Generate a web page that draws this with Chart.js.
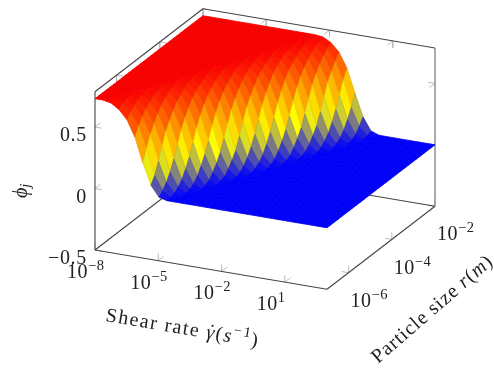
<!DOCTYPE html>
<html>
<head>
<meta charset="utf-8">
<style>
  html, body { margin: 0; padding: 0; background: #fff; }
  canvas { display: block; }
</style>
<script src="https://cdn.jsdelivr.net/npm/chart.js@4"></script>
</head>
<body>
<canvas id="chart" width="494" height="374"></canvas>
<script>
// ── data ─────────────────────────────────────────────────────────────────
// log10 of the axis ends and ticks
const shearRange = [-8, 3];
const sizeRange  = [-7, -2];
const phiRange   = [-0.5, 0.787];
const shearTicks = [-8, -5, -2, 1];
const sizeTicks  = [-6, -4, -2];
const phiTicks   = [-0.5, 0, 0.5];
const phiTickLabels = ["−0.5", "0", "0.5"];

// phi_j, one row per particle size, 30 shear samples per row
const phiRows = [
  [.73,.73,.717,.675,.602,.472,.272,.103,.018,0,0,0,0,0,0,0,0,0,0,0,0,0,0,0,0,0,0,0,0,0],
  [.73,.73,.725,.699,.64,.54,.367,.16,.047,.004,0,0,0,0,0,0,0,0,0,0,0,0,0,0,0,0,0,0,0,0],
  [.73,.73,.729,.714,.67,.591,.459,.253,.091,.015,0,0,0,0,0,0,0,0,0,0,0,0,0,0,0,0,0,0,0,0],
  [.73,.73,.73,.724,.696,.634,.525,.348,.153,.039,.003,0,0,0,0,0,0,0,0,0,0,0,0,0,0,0,0,0,0,0],
  [.73,.73,.73,.728,.711,.665,.581,.446,.235,.078,.012,0,0,0,0,0,0,0,0,0,0,0,0,0,0,0,0,0,0,0],
  [.73,.73,.73,.73,.723,.691,.627,.512,.329,.14,.031,.002,0,0,0,0,0,0,0,0,0,0,0,0,0,0,0,0,0,0],
  [.73,.73,.73,.73,.727,.708,.66,.571,.425,.216,.072,.009,0,0,0,0,0,0,0,0,0,0,0,0,0,0,0,0,0,0],
  [.73,.73,.73,.73,.73,.722,.686,.621,.499,.309,.128,.024,.001,0,0,0,0,0,0,0,0,0,0,0,0,0,0,0,0,0],
  [.73,.73,.73,.73,.73,.726,.705,.652,.56,.406,.198,.064,.007,0,0,0,0,0,0,0,0,0,0,0,0,0,0,0,0,0],
  [.73,.73,.73,.73,.73,.73,.722,.682,.615,.485,.29,.116,.021,.001,0,0,0,0,0,0,0,0,0,0,0,0,0,0,0,0],
  [.73,.73,.73,.73,.73,.73,.726,.702,.646,.55,.386,.179,.055,.004,0,0,0,0,0,0,0,0,0,0,0,0,0,0,0,0],
  [.73,.73,.73,.73,.73,.73,.73,.717,.675,.602,.472,.272,.103,.018,0,0,0,0,0,0,0,0,0,0,0,0,0,0,0,0],
  [.73,.73,.73,.73,.73,.73,.73,.725,.699,.64,.54,.367,.16,.047,.004,0,0,0,0,0,0,0,0,0,0,0,0,0,0,0],
  [.73,.73,.73,.73,.73,.73,.73,.729,.714,.67,.591,.459,.253,.091,.015,0,0,0,0,0,0,0,0,0,0,0,0,0,0,0],
  [.73,.73,.73,.73,.73,.73,.73,.73,.724,.696,.634,.525,.348,.153,.039,.003,0,0,0,0,0,0,0,0,0,0,0,0,0,0],
  [.73,.73,.73,.73,.73,.73,.73,.73,.728,.711,.665,.581,.446,.235,.078,.012,0,0,0,0,0,0,0,0,0,0,0,0,0,0],
  [.73,.73,.73,.73,.73,.73,.73,.73,.73,.723,.691,.627,.512,.329,.14,.031,.002,0,0,0,0,0,0,0,0,0,0,0,0,0],
  [.73,.73,.73,.73,.73,.73,.73,.73,.73,.727,.708,.66,.571,.425,.216,.072,.009,0,0,0,0,0,0,0,0,0,0,0,0,0],
  [.73,.73,.73,.73,.73,.73,.73,.73,.73,.73,.722,.686,.621,.499,.309,.128,.024,.001,0,0,0,0,0,0,0,0,0,0,0,0],
  [.73,.73,.73,.73,.73,.73,.73,.73,.73,.73,.726,.705,.652,.56,.406,.198,.064,.007,0,0,0,0,0,0,0,0,0,0,0,0],
  [.73,.73,.73,.73,.73,.73,.73,.73,.73,.73,.73,.722,.682,.615,.485,.29,.116,.021,.001,0,0,0,0,0,0,0,0,0,0,0],
  [.73,.73,.73,.73,.73,.73,.73,.73,.73,.73,.73,.726,.702,.646,.55,.386,.179,.055,.004,0,0,0,0,0,0,0,0,0,0,0],
  [.73,.73,.73,.73,.73,.73,.73,.73,.73,.73,.73,.73,.717,.675,.602,.472,.272,.103,.018,0,0,0,0,0,0,0,0,0,0,0],
  [.73,.73,.73,.73,.73,.73,.73,.73,.73,.73,.73,.73,.725,.699,.64,.54,.367,.16,.047,.004,0,0,0,0,0,0,0,0,0,0],
  [.73,.73,.73,.73,.73,.73,.73,.73,.73,.73,.73,.73,.729,.714,.67,.591,.459,.253,.091,.015,0,0,0,0,0,0,0,0,0,0],
  [.73,.73,.73,.73,.73,.73,.73,.73,.73,.73,.73,.73,.73,.724,.696,.634,.525,.348,.153,.039,.003,0,0,0,0,0,0,0,0,0],
  [.73,.73,.73,.73,.73,.73,.73,.73,.73,.73,.73,.73,.73,.728,.711,.665,.581,.446,.235,.078,.012,0,0,0,0,0,0,0,0,0],
  [.73,.73,.73,.73,.73,.73,.73,.73,.73,.73,.73,.73,.73,.73,.723,.691,.627,.512,.329,.14,.031,.002,0,0,0,0,0,0,0,0],
  [.73,.73,.73,.73,.73,.73,.73,.73,.73,.73,.73,.73,.73,.73,.727,.708,.66,.571,.425,.216,.072,.009,0,0,0,0,0,0,0,0],
  [.73,.73,.73,.73,.73,.73,.73,.73,.73,.73,.73,.73,.73,.73,.73,.722,.686,.621,.499,.309,.128,.024,.001,0,0,0,0,0,0,0],
];
const phiMax = 0.73;

// ── projection (pgfplots style orthographic box) ─────────────────────────
const origin = [95, 250];       // shear min, size min, phi min
const shearSpan = [232, 39.3];  // box edge along shear axis
const sizeSpan  = [108, -83];   // box edge along size axis
const phiUnit = 123;            // px per unit of phi

function project(sx, sy, z) {
  const u = (sx - shearRange[0]) / (shearRange[1] - shearRange[0]);
  const v = (sy - sizeRange[0]) / (sizeRange[1] - sizeRange[0]);
  return {
    x: origin[0] + u * shearSpan[0] + v * sizeSpan[0],
    y: origin[1] + u * shearSpan[1] + v * sizeSpan[1] - (z - phiRange[0]) * phiUnit,
  };
}

// colormap/hot: blue, yellow, orange, red
const hotStops = [[0,0,255],[255,255,0],[255,128,0],[255,0,0]];
function hot(t) {
  const p = Math.min(Math.max(t, 0), 1) * 3, k = Math.min(Math.floor(p), 2), f = p - k;
  return hotStops[k].map((c, n) => c + (hotStops[k + 1][n] - c) * f);
}
const rgb = (c, m = 1) => `rgb(${c.map(v => Math.round(v * m)).join(",")})`;

// ── datasets ─────────────────────────────────────────────────────────────
const shearAt = i => shearRange[0] + (shearRange[1] - shearRange[0]) * i / (phiRows[0].length - 1);
const sizeAt  = j => sizeRange[0] + (sizeRange[1] - sizeRange[0]) * j / (phiRows.length - 1);

const datasets = [];

// Chart.js paints the first dataset last, so the nearest cells go in first
for (let i = phiRows[0].length - 2; i >= 0; i--) {
  for (let j = 0; j < phiRows.length - 1; j++) {
    const a = phiRows[j][i], b = phiRows[j][i + 1], c = phiRows[j + 1][i + 1], d = phiRows[j + 1][i];
    const col = hot((a + b + c + d) / 4 / phiMax);
    datasets.push({
      data: [
        project(shearAt(i), sizeAt(j), a),
        project(shearAt(i + 1), sizeAt(j), b),
        project(shearAt(i + 1), sizeAt(j + 1), c),
        project(shearAt(i), sizeAt(j + 1), d),
        project(shearAt(i), sizeAt(j), a),
      ],
      // wide enough to close the antialiasing seams between cells
      showLine: true, fill: "shape", pointRadius: 0, borderWidth: 0.8,
      backgroundColor: rgb(col), borderColor: rgb(col, 0.92),
    });
  }
}

function addLine(p, q, color, width) {
  datasets.push({ data: [p, q], showLine: true, fill: false, pointRadius: 0, borderWidth: width, borderColor: color });
}

// box edges, behind the surface
const [x0, x1] = shearRange, [y0, y1] = sizeRange, [z0, z1] = phiRange;
const boxColor = "#444";
addLine(project(x0, y0, z0), project(x0, y0, z1), boxColor, 1.1);
addLine(project(x0, y0, z1), project(x0, y1, z1), boxColor, 1.1);
addLine(project(x0, y1, z1), project(x1, y1, z1), boxColor, 1.1);
addLine(project(x1, y1, z1), project(x1, y1, z0), "#888", 1.4);
addLine(project(x0, y0, z0), project(x1, y0, z0), boxColor, 1.1);
addLine(project(x1, y0, z0), project(x1, y1, z0), boxColor, 1.1);
addLine(project(x0, y0, z0), project(x0, y1, z0), boxColor, 1.1);
addLine(project(x0, y1, z0), project(x1, y1, z0), boxColor, 1.1);

// tick marks have two legs, one in each face touching the edge
const tickLen = 7, tickColor = "#bbb";
function leg(p, q) {
  const dx = q.x - p.x, dy = q.y - p.y, n = Math.hypot(dx, dy);
  addLine(p, { x: p.x + dx / n * tickLen, y: p.y + dy / n * tickLen }, tickColor, 1);
}
function tickLegs(p, a, b) { leg(p, a); leg(p, b); }

for (const t of shearTicks) {
  tickLegs(project(t, y0, z0), project(t, y0, z1), project(t, y1, z0));
  tickLegs(project(t, y1, z1), project(t, y1, z0), project(t, y0, z1));
}
for (const t of sizeTicks) {
  tickLegs(project(x1, t, z0), project(x1, t, z1), project(x0, t, z0));
  tickLegs(project(x0, t, z1), project(x0, t, z0), project(x1, t, z1));
}
for (const t of phiTicks) {
  tickLegs(project(x0, y0, t), project(x1, y0, t), project(x0, y1, t));
  tickLegs(project(x1, y1, t), project(x0, y1, t), project(x1, y0, t));
}

// ── text ─────────────────────────────────────────────────────────────────
const serif = '"Liberation Serif", serif';
const textColor = "#222";

// runs: [text, size, italic, raise, offset]; an offset run sits on top of the next one
function drawRuns(ctx, x, y, angle, runs, spacing = 0) {
  ctx.save();
  ctx.translate(x, y);
  ctx.rotate(angle);
  ctx.fillStyle = textColor;
  ctx.textAlign = "left";
  ctx.textBaseline = "alphabetic";
  ctx.letterSpacing = spacing + "px";
  let pen = 0;
  for (const [text, size, italic, raise, offset] of runs) {
    ctx.font = `${italic ? "italic " : ""}${size}px ${serif}`;
    if (offset !== undefined) {
      ctx.fillText(text, pen + offset, -(raise || 0));
      continue;
    }
    ctx.fillText(text, pen, -(raise || 0));
    pen += ctx.measureText(text).width;
  }
  ctx.restore();
}

const powerLabel = e => [["10", 20], [String(e).replace("-", "−"), 14.5, false, 8]];

const labelsPlugin = {
  id: "labels",
  afterDraw(chart) {
    const ctx = chart.ctx, xs = chart.scales.x, ys = chart.scales.y;
    const at = p => [xs.getPixelForValue(p.x), ys.getPixelForValue(p.y)];

    phiTicks.forEach((t, n) => {
      const [px, py] = at(project(x0, y0, t));
      ctx.save();
      ctx.font = `20px ${serif}`;
      ctx.letterSpacing = "0.7px";
      const w = ctx.measureText(phiTickLabels[n]).width;
      ctx.restore();
      drawRuns(ctx, px - 8 - w, py + 14, 0, [[phiTickLabels[n], 20]], 0.7);
    });
    for (const t of shearTicks) {
      const [px, py] = at(project(t, y0, z0));
      drawRuns(ctx, px - 28, py + 28, 0, powerLabel(t), 0.5);
    }
    for (const t of sizeTicks) {
      const [px, py] = at(project(x1, t, z0));
      drawRuns(ctx, px + 2, py + 34, 0, powerLabel(t), 0.5);
    }

    drawRuns(ctx, 105, 321, 9.6 * Math.PI / 180, [
      ["Shear rate ", 20], ["˙", 20, false, 1, 1.5], ["γ", 20, true], ["(", 20], ["s", 20, true],
      ["−1", 14.5, false, 8], [")", 20],
    ], 1.5);
    drawRuns(ctx, 378, 364, -41 * Math.PI / 180, [
      ["Particle size ", 20], ["r", 20, true], ["(", 20], ["m", 20, true], [")", 20],
    ], 0.9);
    drawRuns(ctx, 27, 198, -Math.PI / 2, [["ϕ", 20, true], ["j", 14.5, true, -3]]);
  },
};

// ── chart ────────────────────────────────────────────────────────────────
new Chart(document.getElementById("chart").getContext("2d"), {
  type: "scatter",
  data: { datasets },
  options: {
    responsive: false,
    animation: false,
    events: [],
    layout: { padding: 0 },
    clip: false,
    scales: {
      x: { type: "linear", min: 0, max: 494, display: false },
      y: { type: "linear", min: 0, max: 374, reverse: true, display: false },
    },
    plugins: { legend: { display: false }, tooltip: { enabled: false } },
  },
  plugins: [labelsPlugin],
});
</script>
</body>
</html>
